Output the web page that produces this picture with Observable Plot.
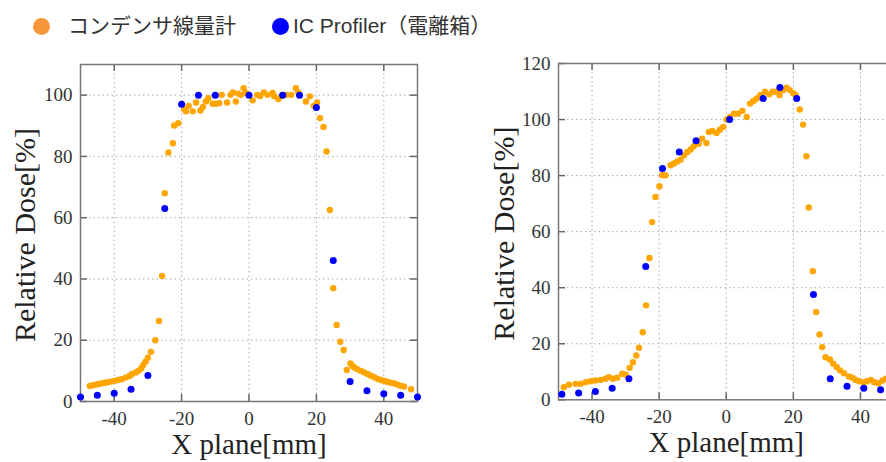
<!DOCTYPE html>
<html><head><meta charset="utf-8">
<script src="https://cdn.jsdelivr.net/npm/d3@7"></script>
<script src="https://cdn.jsdelivr.net/npm/@observablehq/plot@0.6"></script>
<style>
html,body{margin:0;padding:0;background:#fff;width:886px;height:462px;overflow:hidden;position:relative}
.panel{position:absolute;top:0;height:462px}
.panel svg{max-width:none !important}
.leg{position:absolute;font-family:"Liberation Sans","Noto Sans CJK JP",sans-serif;font-size:21px;color:#333;line-height:30px;white-space:nowrap}
.dot{position:absolute;width:17px;height:17px;border-radius:50%}
</style></head>
<body>
<div id="left" class="panel" style="left:0px;width:440px"></div>
<div id="right" class="panel" style="left:440px;width:470px"></div>
<div class="dot" style="left:33px;top:18px;background:#F7963A"></div>
<div class="leg" style="left:68px;top:11px">コンデンサ線量計</div>
<div class="dot" style="left:272px;top:18px;background:#0000FF"></div>
<div class="leg" style="left:293px;top:11px">IC Profiler（電離箱）</div>
<script>
// ---- data ----
const seriesNames = ["コンデンサ線量計", "IC Profiler（電離箱）"];
const xLabel = "X plane[mm]";
const yLabel = "Relative Dose[%]";
const xTicks = [-40, -20, 0, 20, 40];
const xGrid = [-40, -20, 0, 20, 40];
const leftYTicks = [0, 20, 40, 60, 80, 100];
const rightYTicks = [0, 20, 40, 60, 80, 100, 120];

const leftOrangeX = [-47.2,-46.3,-45.5,-44.6,-43.7,-42.8,-41.9,-41,-40,-38.9,-37.8,-36.6,-35.5,-34.7,-33.6,-32.8,-32,-31.4,-30.7,-30,-29.1,-27.8,-26.7,-25.8,-25,-23.9,-22.6,-22.2,-21,-19.2,-18.7,-17.9,-16.7,-15.7,-14.4,-13.7,-12.8,-12.1,-10.8,-9.8,-8.8,-8.1,-6.5,-5.5,-4.8,-3.9,-3.2,-2.4,-1.6,-0.9,1.1,2.4,3.3,4.4,5.5,7,7.5,8.7,9.7,11,12.5,13.9,14.6,16.9,18.1,19.2,20.2,21.1,22.1,23,24,25,26,27.1,28.1,29,30.1,30.7,31.3,32.2,33.2,34.2,35.2,36.2,37.2,38.2,39.2,40.2,41.2,42.1,43.1,44.1,45.1,46,48.1];
const leftOrangeY = [5.1,5.3,5.5,5.7,5.9,6.1,6.3,6.5,6.7,7,7.3,7.8,8.3,9,9.5,10,10.8,11.9,13,14.3,16.2,20,26.3,41,68,81.3,84.3,90.1,90.8,95.5,94.7,96.5,94.7,97.6,95,96.1,97.9,99,97.2,97.2,97.4,100.1,97.6,100.1,100.9,97.9,100.5,100.1,102.3,100.7,98.3,100.1,99.7,100.9,100.1,100.7,99.6,98.7,99.8,100.1,100.1,102.3,100.9,97.9,99.6,96.5,97.6,92.5,89.6,81.6,62.5,37,25,19.5,16.8,10.3,12.4,11.6,11.1,10.5,10,9.5,9,8.4,7.9,7.4,7,6.7,6.4,6.1,5.9,5.5,5.1,4.9,4];
const leftBlueX = [-50,-45,-40,-35,-30,-25,-20,-15,-10,0,10,15,20,25,30,35,40,45,50];
const leftBlueY = [1.5,2,2.7,4,8.5,63,97,100,100,100,100,100,96,46,6.5,3.5,2.5,2,1.5];

const rightOrangeX = [-48.4,-46.9,-44.9,-43.4,-41.9,-40.4,-39,-37.5,-36,-35,-33.8,-32.5,-31,-30,-28.8,-27.8,-26.8,-26,-24.9,-23.9,-22.9,-22.1,-21.1,-19.9,-19.1,-18.1,-16.6,-15.6,-14.6,-13.6,-12.6,-11.6,-10.6,-9.7,-8.2,-7.2,-5.9,-5.2,-4.2,-2.9,-1.9,-0.9,0.1,1.1,2.3,3.5,4.8,6.1,7.1,8.1,9.1,10.1,11.5,12.8,13.8,14.8,15.8,15.9,17,18,19,20,20.7,21.9,22.9,23.9,24.6,25.8,26.8,27.8,28.6,29.6,30.9,31.9,32.9,33.9,35.1,36.6,37.6,38.6,39.6,40.9,41.9,43.1,44.1,45.3,46.6,47.6];
const rightOrangeY = [4.5,5.4,5.7,5.7,6.3,6.6,6.9,7.1,7.5,8.1,7.5,7.9,9.3,9,11.4,13.4,15.8,18.6,24.1,33.7,50.6,63.4,72.4,76.2,80.1,80.1,83.7,84.3,85,85.7,87.2,88.4,89.3,90.5,91.4,93.2,91.6,95.6,95.9,95.2,96.4,97.4,100,100.9,102.1,102.1,103.1,100.9,105.7,106.6,107.5,108.7,109.9,109,109.9,109.9,110.7,108.7,110.5,111.4,110.5,109.3,108.7,103.6,98.2,86.9,68.6,45.9,31.3,23.3,18.8,15.2,14.4,12.9,11.7,10.5,9.5,8.3,7.9,7.1,6.6,6.3,6.6,7.1,6.3,5.9,6.9,7.5];
const rightBlueX = [-49,-44,-39,-34,-29,-24,-19,-14,-9,1,11,16,21,26,31,36,41,46];
const rightBlueY = [2,2.4,3,4.1,7.5,47.6,82.5,88.4,92.4,100,107.5,111.4,107.5,37.6,7.5,4.8,4.1,3.6];

const orange = "#FFA500";
const blue = "#0000FF";
const serif = "'Liberation Serif', 'Times New Roman', serif";

function zip(xs, ys) { return xs.map((x, i) => ({x, y: ys[i]})); }

function panel({width, height, ml, mr, mt, mb, xDomain, yDomain, yTicks, orangePts, bluePts, yLabelDx}) {
  const fw = width - ml - mr, fh = height - mt - mb, tk = 7;
  const fmt = d => String(d);
  return Plot.plot({
    width, height, marginLeft: ml, marginRight: mr, marginTop: mt, marginBottom: mb,
    x: {domain: xDomain, axis: null},
    y: {domain: yDomain, axis: null},
    style: {fontFamily: serif, fontSize: "19px", color: "#333", background: "transparent", overflow: "visible", maxWidth: "none"},
    marks: [
      Plot.ruleX(xGrid, {x: d => d, stroke: "#aaa", strokeDasharray: "1.5,3", strokeWidth: 1}),
      Plot.ruleY(yTicks.filter(d => d > yDomain[0] && d < yDomain[1]), {y: d => d, stroke: "#aaa", strokeDasharray: "1.5,3", strokeWidth: 1}),
      Plot.ruleX(xTicks, {x: d => d, insetTop: fh - tk, stroke: "#666", strokeWidth: 1.5}),
      Plot.ruleX(xTicks, {x: d => d, insetBottom: fh - tk, stroke: "#666", strokeWidth: 1.5}),
      Plot.ruleY(yTicks, {y: d => d, insetRight: fw - tk, stroke: "#666", strokeWidth: 1.5}),
      Plot.ruleY(yTicks, {y: d => d, insetLeft: fw - tk, stroke: "#666", strokeWidth: 1.5}),
      Plot.frame({stroke: "#777", strokeWidth: 1.5}),
      Plot.text(xTicks, {x: d => d, frameAnchor: "bottom", lineAnchor: "top", textAnchor: "middle", dy: 10, text: fmt, fill: "#333", fontFamily: serif, fontSize: 19}),
      Plot.text(yTicks, {y: d => d, frameAnchor: "left", lineAnchor: "middle", textAnchor: "end", dx: -8, text: fmt, fill: "#333", fontFamily: serif, fontSize: 19}),
      Plot.dot(orangePts, {x: "x", y: "y", r: 3.2, fill: orange}),
      Plot.dot(bluePts, {x: "x", y: "y", r: 3.5, fill: blue}),
      Plot.text([xLabel], {frameAnchor: "bottom", lineAnchor: "middle", textAnchor: "middle", dy: 43, fontSize: 29, fontFamily: serif, fill: "#222", text: d => d}),
      Plot.text([yLabel], {frameAnchor: "left", lineAnchor: "middle", textAnchor: "middle", dx: yLabelDx, dy: 2, rotate: -90, fontSize: 30, fontFamily: serif, fill: "#222", text: d => d})
    ]
  });
}

document.getElementById("left").appendChild(panel({
  width: 440, height: 462, ml: 80, mr: 23, mt: 64, mb: 61,
  xDomain: [-50, 50], yDomain: [0, 110], yTicks: leftYTicks,
  orangePts: zip(leftOrangeX, leftOrangeY), bluePts: zip(leftBlueX, leftBlueY), yLabelDx: -55
}));
document.getElementById("right").appendChild(panel({
  width: 470, height: 462, ml: 118, mr: 16.5, mt: 63, mb: 62.7,
  xDomain: [-50, 50], yDomain: [0, 120], yTicks: rightYTicks,
  orangePts: zip(rightOrangeX, rightOrangeY), bluePts: zip(rightBlueX, rightBlueY), yLabelDx: -54
}));
</script>
</body></html>
